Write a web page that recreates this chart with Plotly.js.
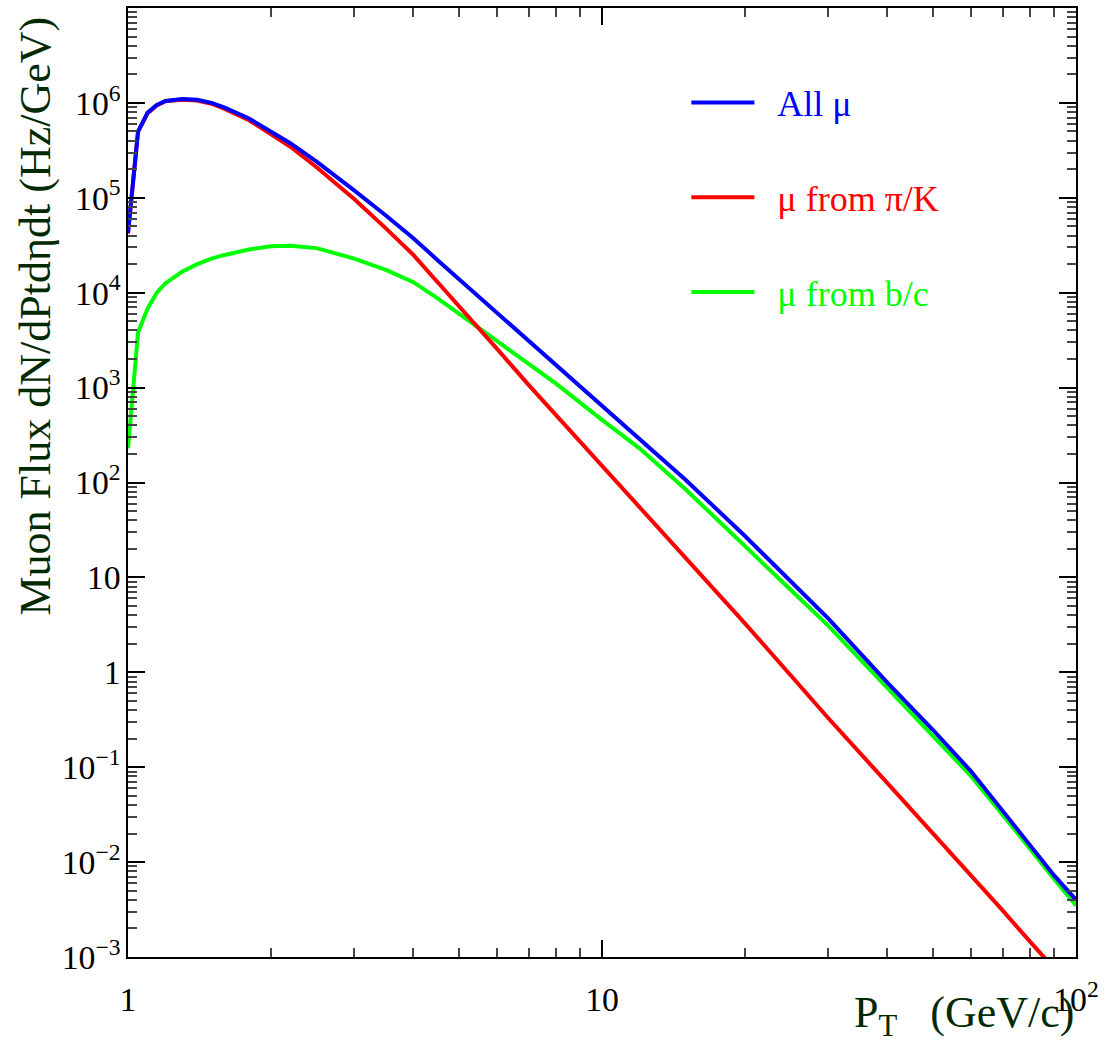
<!DOCTYPE html>
<html>
<head>
<meta charset="utf-8">
<script src="https://cdn.plot.ly/plotly-3.0.1.min.js"></script>
<style>html,body{margin:0;padding:0;background:#fff;}#chart{width:1117px;height:1043px;}</style>
</head>
<body>
<div id="chart"></div>
<script>
// Transverse momentum values (GeV/c)
const pt = [1, 1.05, 1.1, 1.15, 1.2, 1.3, 1.4, 1.5, 1.6, 1.7, 1.8, 2, 2.2, 2.5, 2.8, 3, 3.5, 4, 4.5, 5, 6, 7, 8, 10, 12, 15, 20, 25, 30, 40, 50, 60, 70, 80, 90, 100];

// Muon flux dN/dPt d(eta) dt (Hz/GeV)
const allMu = [4.27e4, 5.0e5, 7.9e5, 9.5e5, 1.05e6, 1.10e6, 1.08e6, 1.0e6, 8.9e5, 7.85e5, 6.85e5, 5.0e5, 3.76e5, 2.4e5, 1.57e5, 1.2e5, 6.5e4, 3.75e4, 2.2e4, 1.38e4, 6.2e3, 3.16e3, 1.74e3, 660, 288, 107, 27.5, 9.1, 3.7, 0.78, 0.245, 0.091, 0.0347, 0.0148, 0.0072, 0.0040];
const muPiK = [4.2e4, 4.95e5, 7.8e5, 9.4e5, 1.04e6, 1.08e6, 1.06e6, 9.8e5, 8.65e5, 7.58e5, 6.57e5, 4.69e5, 3.45e5, 2.1e5, 1.32e5, 9.7e4, 4.76e4, 2.5e4, 1.29e4, 7.2e3, 2.57e3, 1.07e3, 513, 151, 55, 16.6, 3.3, 0.93, 0.33, 0.068, 0.020, 0.0072, 0.0031, 0.00145, 0.00076, 0.00042];
const muBC = [229, 3.8e3, 6.8e3, 1.0e4, 1.26e4, 1.66e4, 2.0e4, 2.29e4, 2.5e4, 2.69e4, 2.85e4, 3.09e4, 3.13e4, 2.95e4, 2.5e4, 2.29e4, 1.74e4, 1.29e4, 8.7e3, 5.9e3, 3.1e3, 1.78e3, 1.1e3, 457, 229, 85, 21.9, 7.4, 3.1, 0.68, 0.214, 0.081, 0.0316, 0.0135, 0.0066, 0.0035];

const seriesNames = ['All \u03bc', '\u03bc from \u03c0/K', '\u03bc from b/c'];
const seriesColors = ['#0000ff', '#ff0000', '#00ff00'];
const seriesValues = [allMu, muPiK, muBC];
// draw order: green, red, then blue on top (legend order restored by legendrank)
const drawOrder = [2, 1, 0];

const serif = 'Liberation Serif, Times New Roman, serif';
const titleColor = '#022a02';

const traces = drawOrder.map(i => ({
  x: pt, y: seriesValues[i], type: 'scatter', mode: 'lines',
  name: '<span style="color:' + seriesColors[i] + '">\u00a0\u00a0' + seriesNames[i] + '</span>',
  legendgroup: 'g' + i, legendrank: i + 1,
  line: {color: seriesColors[i], width: 4, shape: 'linear'},
  hoverinfo: 'x+y'
}));

const axisCommon = {
  type: 'log', showgrid: false, zeroline: false,
  showline: true, linecolor: '#000', linewidth: 2, mirror: 'allticks',
  ticks: 'inside', ticklen: 17, tickwidth: 2, tickcolor: '#000',
  dtick: 1, exponentformat: 'power',
  tickfont: {family: serif, size: 27, color: '#000'},
  minor: {ticks: 'inside', ticklen: 9, tickwidth: 2, tickcolor: '#444', dtick: 'D1', showgrid: false}
};

const layout = {
  width: 1117, height: 1043,
  margin: {l: 128, r: 41, t: 8, b: 86},
  paper_bgcolor: '#fff', plot_bgcolor: '#fff',
  showlegend: true,
  legend: {
    x: 0.589, y: 0.932, xanchor: 'left', yanchor: 'top',
    bgcolor: 'rgba(0,0,0,0)', borderwidth: 0,
    font: {family: serif, size: 36, color: '#000'},
    traceorder: 'grouped', tracegroupgap: 45, itemwidth: 63
  },
  xaxis: Object.assign({}, axisCommon, {range: [0, 2], ticklabelstandoff: 13}),
  yaxis: Object.assign({}, axisCommon, {range: [-3, 7]}),
  annotations: [
    {text: 'P<sub>T</sub>\u00a0\u00a0 (GeV/c)', xref: 'paper', yref: 'paper', x: 1, y: -0.062,
     xanchor: 'right', yanchor: 'middle', showarrow: false,
     font: {family: serif, size: 44, color: titleColor}},
    {text: 'Muon Flux dN/dPtd\u03b7dt (Hz/GeV)', xref: 'paper', yref: 'paper', x: -0.098, y: 0.675,
     xanchor: 'center', yanchor: 'middle', textangle: -90, showarrow: false,
     font: {family: serif, size: 44, color: titleColor}}
  ]
};

Plotly.newPlot('chart', traces, layout, {displayModeBar: false, staticPlot: true});
</script>
</body>
</html>
